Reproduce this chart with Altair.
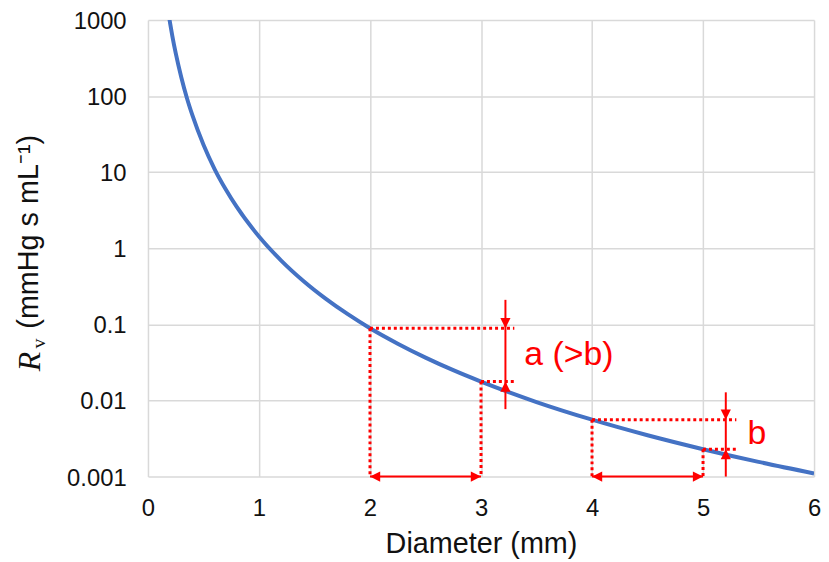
import altair as alt
import pandas as pd

# ---- data ----
diameter = [0.19, 0.195, 0.2, 0.22, 0.25, 0.3, 0.35, 0.4, 0.5, 0.6, 0.7, 0.8,
            1.0, 1.2, 1.4, 1.6, 1.8, 2.0, 2.25, 2.5, 2.75, 3.0, 3.5, 4.0,
            4.5, 5.0, 5.5, 6.0]
resistance = [1100, 990, 894, 610, 366, 177, 95, 56, 22.9, 11.0, 5.96, 3.49,
              1.43, 0.69, 0.372, 0.218, 0.136, 0.089, 0.0558, 0.0366, 0.0250,
              0.0177, 0.00953, 0.00559, 0.00349, 0.00229, 0.00156, 0.00110]

x_ticks = [0, 1, 2, 3, 4, 5, 6]
y_ticks = [0.001, 0.01, 0.1, 1, 10, 100, 1000]

# dotted guide segments
guide_x1 = [2, 2, 3, 3, 4, 4, 5, 5]
guide_y1 = [0.089, 0.089, 0.0177, 0.0177, 0.00559, 0.00559, 0.00229, 0.00229]
guide_x2 = [2, 3.30, 3, 3.30, 4, 5.30, 5, 5.30]
guide_y2 = [0.001, 0.089, 0.001, 0.0177, 0.001, 0.00559, 0.001, 0.00229]

# solid arrow shafts
shaft_x1 = [2, 4, 3.22, 5.205]
shaft_y1 = [0.001, 0.001, 0.21, 0.0128]
shaft_x2 = [3, 5, 3.22, 5.205]
shaft_y2 = [0.001, 0.001, 0.0077, 0.001]

# arrow heads
head_x = [2, 3, 4, 5, 3.22, 3.22, 5.205, 5.205]
head_y = [0.001, 0.001, 0.001, 0.001, 0.089, 0.0177, 0.00559, 0.00229]
head_dir = ["left", "right", "left", "right", "down", "up", "down", "up"]

# annotation labels
label_text = ["a (>b)", "b"]
label_x = [3.39, 5.40]
label_y = [0.040, 0.00364]

# y title pieces
title_parts = ["R", "v", "(mmHg s mL\u207b\u00b9)"]

# ---- styling ----
RED = "#ff0000"
BLUE = "#4472c4"
SANS = "Liberation Sans"
SERIF = "Liberation Serif"

paths = {
    "down": "M0,0L-0.5,-1L0.5,-1Z",
    "up": "M0,0L-0.5,1L0.5,1Z",
    "left": "M0,0L1,-0.5L1,0.5Z",
    "right": "M0,0L-1,-0.5L-1,0.5Z",
}

curve_df = pd.DataFrame({"d": diameter, "r": resistance})
guide_df = pd.DataFrame({"x": guide_x1, "y": guide_y1, "x2": guide_x2, "y2": guide_y2})
shaft_df = pd.DataFrame({"x": shaft_x1, "y": shaft_y1, "x2": shaft_x2, "y2": shaft_y2})
head_df = pd.DataFrame({"x": head_x, "y": head_y,
                        "shape": [paths[d] for d in head_dir]})
label_df = pd.DataFrame({"t": label_text, "x": label_x, "y": label_y})

xscale = alt.Scale(domain=[0, 6], nice=False, zero=False)
yscale = alt.Scale(type="log", domain=[0.001, 1000], nice=False)

xaxis = alt.Axis(values=x_ticks, format="d", labelPadding=20, tickSize=0,
                 labelFlush=False, labelOverlap=False, title="Diameter (mm)",
                 titleBaseline="alphabetic", titleY=76)
yaxis = alt.Axis(values=y_ticks, format="~g", labelPadding=22, tickSize=0,
                 labelOffset=1.5, labelFlush=False, labelOverlap=False, title=None)

curve = alt.Chart(curve_df).mark_line(
    color=BLUE, strokeWidth=4, clip=True, interpolate="monotone"
).encode(
    x=alt.X("d:Q", scale=xscale, axis=xaxis),
    y=alt.Y("r:Q", scale=yscale, axis=yaxis),
)

guides = alt.Chart(guide_df).mark_rule(
    color=RED, strokeWidth=3, strokeDash=[3, 3], strokeCap="butt"
).encode(x="x:Q", y="y:Q", x2="x2:Q", y2="y2:Q")

shafts = alt.Chart(shaft_df).mark_rule(
    color=RED, strokeWidth=2
).encode(x="x:Q", y="y:Q", x2="x2:Q", y2="y2:Q")

heads = alt.Chart(head_df).mark_point(
    filled=True, opacity=1, color=RED, size=420, strokeWidth=0
).encode(x="x:Q", y="y:Q", shape=alt.Shape("shape:N", scale=None, legend=None))

labels = alt.Chart(label_df).mark_text(
    color=RED, font=SANS, fontSize=34, align="left", baseline="middle"
).encode(x="x:Q", y="y:Q", text="t:N")

t_r = alt.Chart(pd.DataFrame({"t": [title_parts[0]]})).mark_text(
    font=SERIF, fontStyle="italic", fontSize=32, angle=270, align="left",
    baseline="alphabetic", color="#111"
).encode(text="t:N", x=alt.value(-109), y=alt.value(354))

t_v = alt.Chart(pd.DataFrame({"t": [title_parts[1]]})).mark_text(
    font=SERIF, fontSize=20, angle=270, align="left",
    baseline="alphabetic", color="#111"
).encode(text="t:N", x=alt.value(-104), y=alt.value(331))

t_main = alt.Chart(pd.DataFrame({"t": [title_parts[2]]})).mark_text(
    font=SANS, fontSize=29, angle=270, align="left",
    baseline="alphabetic", color="#111"
).encode(text="t:N", x=alt.value(-111), y=alt.value(311))

chart = alt.layer(curve, guides, shafts, heads, labels, t_r, t_v, t_main).properties(
    width=671, height=460,
    autosize=alt.AutoSizeParams(type="none"),
    padding={"left": 141, "top": 10, "right": 7, "bottom": 83},
).configure_axis(
    grid=True, gridColor="#d9d9d9", gridWidth=1.5, domain=False, ticks=False,
    labelFont=SANS, labelFontSize=24, labelColor="#111",
    titleFont=SANS, titleFontSize=29, titleColor="#111", titleFontWeight="normal",
).configure_view(stroke=None)

chart.save("out.html", embed_options={"renderer": "svg", "actions": False})
